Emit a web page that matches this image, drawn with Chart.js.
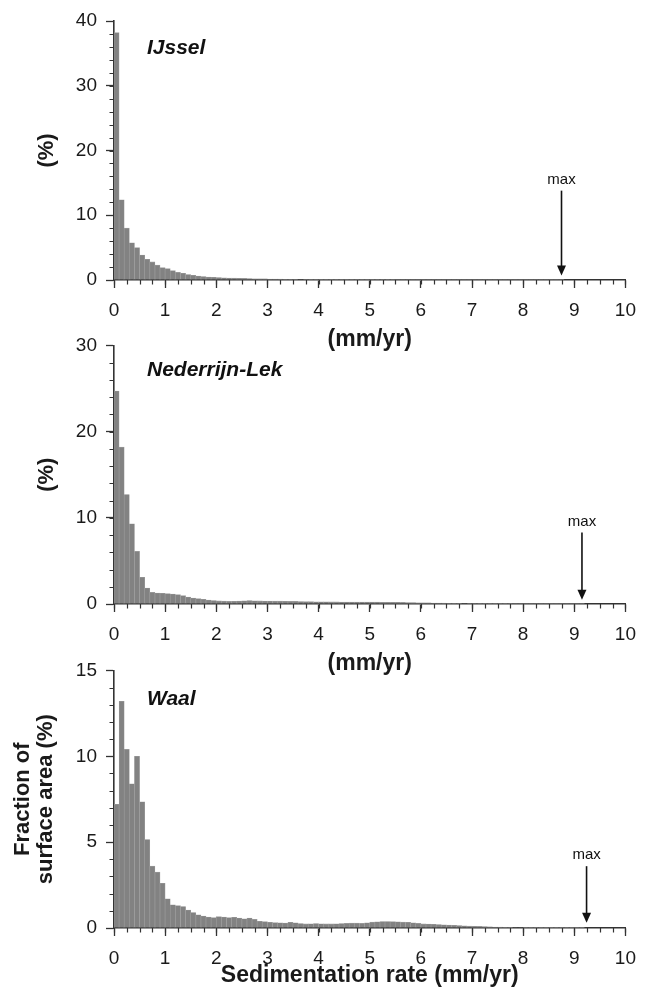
<!DOCTYPE html>
<html>
<head>
<meta charset="utf-8">
<script src="https://cdn.jsdelivr.net/npm/chart.js@4.4.1/dist/chart.umd.min.js"></script>
<style>
  html, body { margin:0; padding:0; background:#fff; }
  body { width:647px; height:1003px; position:relative; overflow:hidden; }
  canvas { position:absolute; left:0; }
</style>
</head>
<body>
<canvas id="c1"></canvas>
<canvas id="c2"></canvas>
<canvas id="c3"></canvas>
<script>
// sedimentation rate classes: 0.1 mm/yr wide, 0 - 10 mm/yr
const BIN_WIDTH = 0.1;
const X_TICKS = [0,1,2,3,4,5,6,7,8,9,10];

// fraction of surface area (%) per class
const IJSSEL = [
  38.2, 12.4, 8.0, 5.75, 5.0, 3.85, 3.2, 2.8, 2.3, 1.9,
  1.75, 1.44, 1.18, 1.03, 0.85, 0.72, 0.62, 0.53, 0.46, 0.41,
  0.37, 0.34, 0.31, 0.28, 0.26, 0.24, 0.22, 0.2, 0.18, 0.17,
  0.16, 0.15, 0.14, 0.12, 0.11, 0.1, 0.08, 0.07, 0.06, 0.05,
  0.05, 0.04, 0.04, 0.04, 0.03, 0.03, 0.03, 0.03, 0.02, 0.02,
  0.02, 0.02, 0.02, 0.02, 0.02, 0.01, 0.01, 0.01, 0.01, 0.01,
  0.01, 0.01, 0.01, 0.01, 0.01, 0.01, 0.01, 0.01, 0.01, 0.01,
  0.01, 0.01, 0.01, 0.01, 0.01, 0.01, 0.01, 0.01, 0.01, 0.01,
  0.01, 0.01, 0.01, 0.01, 0.01, 0.01, 0.01, 0.01, 0, 0,
  0, 0, 0, 0, 0, 0, 0, 0, 0, 0
];
const NEDERRIJN_LEK = [
  24.7, 18.2, 12.7, 9.3, 6.1, 3.1, 1.85, 1.35, 1.27, 1.24,
  1.2, 1.15, 1.08, 0.97, 0.8, 0.7, 0.62, 0.55, 0.46, 0.4,
  0.36, 0.33, 0.3, 0.32, 0.35, 0.38, 0.4, 0.38, 0.36, 0.35,
  0.34, 0.33, 0.33, 0.32, 0.3, 0.3, 0.28, 0.27, 0.27, 0.26,
  0.25, 0.25, 0.24, 0.24, 0.23, 0.23, 0.22, 0.22, 0.22, 0.22,
  0.22, 0.22, 0.2, 0.2, 0.2, 0.19, 0.18, 0.17, 0.16, 0.15,
  0.14, 0.13, 0.12, 0.11, 0.1, 0.09, 0.08, 0.07, 0.06, 0.05,
  0.05, 0.04, 0.04, 0.03, 0.03, 0.02, 0.02, 0.02, 0.01, 0.01,
  0.01, 0.01, 0.01, 0.01, 0.01, 0.01, 0.01, 0.01, 0.01, 0.01,
  0.01, 0.01, 0, 0, 0, 0, 0, 0, 0, 0
];
const WAAL = [
  7.2, 13.2, 10.4, 8.4, 10.0, 7.35, 5.15, 3.6, 3.25, 2.6,
  1.7, 1.35, 1.3, 1.25, 1.05, 0.9, 0.77, 0.7, 0.64, 0.6,
  0.66, 0.64, 0.6, 0.62, 0.58, 0.54, 0.58, 0.5, 0.39, 0.37,
  0.33, 0.31, 0.3, 0.29, 0.33, 0.3, 0.26, 0.24, 0.25, 0.26,
  0.25, 0.24, 0.24, 0.25, 0.26, 0.27, 0.28, 0.28, 0.27, 0.3,
  0.34, 0.36, 0.38, 0.38, 0.37, 0.36, 0.34, 0.33, 0.3, 0.27,
  0.24, 0.23, 0.22, 0.2, 0.19, 0.17, 0.16, 0.14, 0.13, 0.11,
  0.1, 0.09, 0.08, 0.07, 0.06, 0.05, 0.04, 0.04, 0.03, 0.03,
  0.02, 0.02, 0.02, 0.01, 0.01, 0.01, 0.01, 0.01, 0.01, 0.01,
  0.01, 0.01, 0, 0, 0, 0, 0, 0, 0, 0
];

// maximum sedimentation rate per river (mm/yr)
const MAX_RATE = { ijssel: 8.75, lek: 9.15, waal: 9.24 };

const FONT = "'Liberation Sans', Arial, sans-serif";
const AXIS_COLOR = "#333";
const TEXT_COLOR = "#1a1a1a";
const PLOT_LEFT = 114, PLOT_RIGHT = 633, PAGE_W = 647;

function $(id){ return document.getElementById(id); }

// small ticks between the labelled ones
const minorTicks = {
  id: "minorTicks",
  afterDraw(chart, args, o){
    const {ctx, scales:{x, y}} = chart;
    ctx.save();
    ctx.strokeStyle = AXIS_COLOR;
    ctx.lineWidth = 1.2;
    ctx.beginPath();
    for(let v = x.min; v <= x.max + 1e-9; v += o.xStep){
      const px = Math.round(x.getPixelForValue(v)) + 0.5;
      ctx.moveTo(px, y.bottom); ctx.lineTo(px, y.bottom + 4.5);
    }
    for(let v = y.min; v <= y.max + 1e-9; v += o.yStep){
      const py = Math.round(y.getPixelForValue(v)) + 0.5;
      ctx.moveTo(x.left, py); ctx.lineTo(x.left - 4.5, py);
    }
    ctx.stroke();
    ctx.restore();
  }
};

// river name + "max" arrow
const annot = {
  id: "annot",
  afterDraw(chart, args, o){
    const {ctx, chartArea, scales:{x, y}} = chart;
    ctx.save();
    ctx.fillStyle = "#111";
    ctx.font = `italic bold 21px ${FONT}`;
    ctx.textBaseline = "middle";
    ctx.textAlign = "left";
    ctx.fillText(o.name, chartArea.left + 33, chartArea.top + o.nameDy);

    const px = x.getPixelForValue(o.maxX);
    const tip = y.getPixelForValue(o.tipY);
    const top = y.getPixelForValue(o.topY);
    ctx.strokeStyle = "#111";
    ctx.lineWidth = 1.6;
    ctx.beginPath();
    ctx.moveTo(px, top); ctx.lineTo(px, tip - 8);
    ctx.stroke();
    ctx.beginPath();
    ctx.moveTo(px - 4.5, tip - 10); ctx.lineTo(px + 4.5, tip - 10); ctx.lineTo(px, tip);
    ctx.closePath(); ctx.fill();
    ctx.font = `15px ${FONT}`;
    ctx.textAlign = "center";
    ctx.fillText("max", px, top - 11);
    ctx.restore();
  }
};

function makePanel(id, p){
  const el = $(id);
  el.width = PAGE_W; el.height = p.h;
  el.style.top = p.top + "px";
  el.style.width = PAGE_W + "px"; el.style.height = p.h + "px";
  const xHeight = p.top + p.h - p.plotBottom;

  return new Chart(el.getContext("2d"), {
    type: "bar",
    data: {
      datasets: [{
        data: p.values.map((v, i) => ({ x: (i + 0.5) * BIN_WIDTH, y: v })),
        backgroundColor: "#828282",
        borderColor: "#9e9e9e",
        borderWidth: 0.6,
        barPercentage: 1,
        categoryPercentage: 1
      }]
    },
    options: {
      responsive: false,
      animation: false,
      layout: { padding: { top: p.plotTop - p.top, right: PAGE_W - PLOT_RIGHT, left: 0, bottom: 0 } },
      plugins: {
        legend: { display: false },
        tooltip: { enabled: false },
        minorTicks: { xStep: 0.25, yStep: p.yMinor },
        annot: p.annot
      },
      scales: {
        x: {
          type: "linear", min: 0, max: 10, offset: false,
          afterBuildTicks: s => { s.ticks = X_TICKS.map(v => ({ value: v })); },
          afterFit: s => { s.height = xHeight; },
          border: { color: AXIS_COLOR, width: 1.6 },
          grid: { display: true, drawOnChartArea: false, offset: false, tickLength: 8, tickColor: AXIS_COLOR, tickWidth: 1.3 },
          ticks: { color: TEXT_COLOR, font: { family: FONT, size: 19 }, padding: 11, maxRotation: 0, autoSkip: false },
          title: { display: true, text: p.xTitle, color: TEXT_COLOR, font: { family: FONT, size: 23, weight: "bold", lineHeight: 1.07 }, padding: 0 }
        },
        y: {
          min: 0, max: p.yMax,
          afterBuildTicks: s => { s.ticks = p.yTicks.map(v => ({ value: v })); },
          afterFit: s => { s.width = PLOT_LEFT; },
          border: { color: AXIS_COLOR, width: 1.6 },
          grid: { display: true, drawOnChartArea: false, tickLength: 8, tickColor: AXIS_COLOR, tickWidth: 1.3 },
          ticks: { color: TEXT_COLOR, font: { family: FONT, size: 19 }, padding: 9, autoSkip: false },
          title: { display: true, text: p.yTitle, color: TEXT_COLOR, font: { family: FONT, size: 22, weight: "bold", lineHeight: 1.07 }, padding: { top: p.yTitlePad, bottom: 0 } }
        }
      }
    },
    plugins: [minorTicks, annot]
  });
}

makePanel("c1", {
  top: 0, h: 352, plotTop: 21, plotBottom: 280,
  values: IJSSEL, yMax: 40, yTicks: [0,10,20,30,40], yMinor: 2,
  xTitle: "(mm/yr)", yTitle: "(%)", yTitlePad: 35,
  annot: { name: "IJssel", nameDy: 27, maxX: MAX_RATE.ijssel, tipY: 0.7, topY: 13.8 }
});
makePanel("c2", {
  top: 325, h: 351, plotTop: 345, plotBottom: 604,
  values: NEDERRIJN_LEK, yMax: 30, yTicks: [0,10,20,30], yMinor: 2,
  xTitle: "(mm/yr)", yTitle: "(%)", yTitlePad: 35,
  annot: { name: "Nederrijn-Lek", nameDy: 25, maxX: MAX_RATE.lek, tipY: 0.5, topY: 8.3 }
});
makePanel("c3", {
  top: 650, h: 338, plotTop: 667, plotBottom: 928,
  values: WAAL, yMax: 15, yTicks: [0,5,10,15], yMinor: 1,
  xTitle: "Sedimentation rate (mm/yr)", yTitle: ["Fraction of", "surface area (%)"], yTitlePad: 11,
  annot: { name: "Waal", nameDy: 29, maxX: MAX_RATE.waal, tipY: 0.3, topY: 3.6 }
});
</script>
</body>
</html>
